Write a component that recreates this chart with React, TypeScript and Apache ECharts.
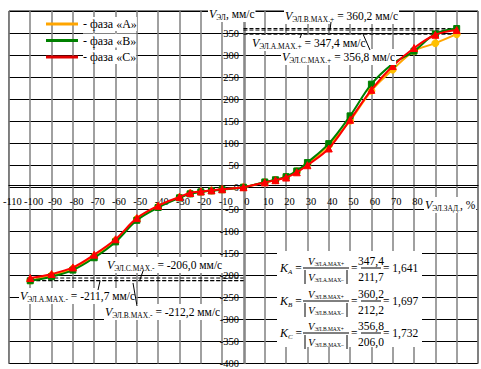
import React, { useEffect, useRef } from 'react';
import * as echarts from 'echarts';

const xValues = [-100, -90, -80, -70, -60, -50, -40, -30, -25, -20, -15, -10, 0, 10, 15, 20, 25, 30, 40, 50, 60, 70, 80, 90, 100];
const phaseA = [-211.7, -200, -185, -157, -121, -72, -44, -23, -14, -10, -7.5, -5, 0, 11, 16, 23, 36, 52, 95, 151, 219, 267, 309, 327, 347.4];
const phaseB = [-212.2, -203, -188, -160, -124, -75, -46, -24, -15, -10.5, -8, -5.5, 0, 12, 17, 24, 37, 56, 99, 162, 234, 280, 309, 348, 360.2];
const phaseC = [-206.0, -197, -182, -153, -118, -70, -42, -22, -13, -9.5, -7, -4.5, 0, 11, 16, 22, 34, 50, 88, 153, 221, 275, 316, 346, 356.8];
const phaseNames = ['фаза «А»', 'фаза «В»', 'фаза «С»'];
const phaseLetters = ['А', 'В', 'С'];
const maxPos = [347.4, 360.2, 356.8];
const maxNeg = [-211.7, -212.2, -206.0];
const fracSubs = ['А', 'В', 'В'];

const FF = "'Liberation Serif','Times New Roman',serif";
const fmt = (v: number) => v.toFixed(1).replace('.', ',');

const rich: any = {
  v: { fontFamily: FF, fontStyle: 'italic', fontSize: 12, color: '#000', lineHeight: 14, verticalAlign: 'middle' },
  s: { fontFamily: FF, fontSize: 7.5, color: '#000', lineHeight: 14, verticalAlign: 'bottom' },
  t: { fontFamily: FF, fontSize: 11.5, color: '#000', lineHeight: 14, verticalAlign: 'middle' },
  n: { fontFamily: FF, fontSize: 11.5, color: '#000', lineHeight: 13, verticalAlign: 'middle' },
  fv: { fontFamily: FF, fontStyle: 'italic', fontSize: 10.5, color: '#000', lineHeight: 12, verticalAlign: 'middle' },
  fs: { fontFamily: FF, fontSize: 5.5, color: '#000', lineHeight: 12, verticalAlign: 'bottom' },
  ks: { fontFamily: FF, fontStyle: 'italic', fontSize: 7, color: '#000', lineHeight: 14, verticalAlign: 'bottom' },
};

function label(x: number, y: number, text: string, align = 'left') {
  return {
    type: 'text', x, y, z: 60,
    style: { text, rich, backgroundColor: '#fff', padding: [1, 1, 1, 1], align, verticalAlign: 'middle', textAlign: align, textVerticalAlign: 'middle' },
  };
}
function txt(x: number, y: number, text: string, align = 'center') {
  return {
    type: 'text', x, y, z: 62,
    style: { text, rich, align, verticalAlign: 'middle', textAlign: align, textVerticalAlign: 'middle' },
  };
}
function ln(x1: number, y1: number, x2: number, y2: number, w = 1) {
  return { type: 'line', z: 61, shape: { x1, y1, x2, y2 }, style: { stroke: '#000', lineWidth: w } };
}

export default function App() {
  const ref = useRef<HTMLDivElement>(null);
  useEffect(() => {
    if (!ref.current) return;
    const chart = echarts.init(ref.current, undefined, { renderer: 'svg' });
    const mk = (name: string, data: number[], lineColor: string, symColor: string, symbol: string, size: number, z: number) => ({
      type: 'line', name, z,
      data: xValues.map((x, i) => [x, data[i]]),
      smooth: 0.35, symbol, symbolSize: size,
      lineStyle: { color: lineColor, width: 2 },
      itemStyle: { color: symColor, borderColor: symColor },
    });
    const dashed: any[] = [];
    maxPos.forEach((v) => dashed.push({ type: 'line', silent: true, z: 1, symbol: 'none', data: [[0, v], [100, v]], lineStyle: { color: '#000', width: 1, type: [4, 2] } }));
    maxNeg.forEach((v) => dashed.push({ type: 'line', silent: true, z: 1, symbol: 'none', data: [[-100, v], [0, v]], lineStyle: { color: '#000', width: 1, type: [4, 2] } }));

    const elements: any[] = [];
    elements.push(label(208, 14, '{v|V}{s|ЭЛ}{t|, мм/с}'));
    elements.push(label(424, 205, '{v|V}{s|ЭЛ.ЗАД.}{t|, %}'));
    elements.push(label(284, 16, `{v|V}{s|ЭЛ.${phaseLetters[1]}.MAX.+}{t| = ${fmt(maxPos[1])} мм/с}`));
    elements.push(label(251, 43, `{v|V}{s|ЭЛ.${phaseLetters[0]}.MAX.+}{t| = ${fmt(maxPos[0])} мм/с}`));
    elements.push(label(281, 57, `{v|V}{s|ЭЛ.${phaseLetters[2]}.MAX.+}{t| = ${fmt(maxPos[2])} мм/с}`));
    elements.push(label(106, 265, `{v|V}{s|ЭЛ.${phaseLetters[2]}.MAX.-}{t| = ${fmt(maxNeg[2])} мм/с}`));
    elements.push(label(19, 296, `{v|V}{s|ЭЛ.${phaseLetters[0]}.MAX.-}{t| = ${fmt(maxNeg[0])} мм/с}`));
    elements.push(label(104, 312, `{v|V}{s|ЭЛ.${phaseLetters[1]}.MAX.-}{t| = ${fmt(maxNeg[1])} мм/с}`));
    elements.push(ln(331, 22, 330, 30));
    elements.push(ln(301.5, 34, 300, 38));
    elements.push(ln(363, 34, 370, 50));
    elements.push(ln(143, 271, 139.5, 281));
    elements.push(ln(100, 281, 98, 290));
    elements.push(ln(133, 283, 137, 306));
    elements.push({ type: 'rect', z: 55, shape: { x: 277, y: 251, width: 145, height: 96 }, style: { fill: '#fff' } });
    const rowY = [268, 301, 333];
    const kLetters = ['A', 'B', 'C'];
    rowY.forEach((y0, i) => {
      const k = (maxPos[i] / Math.abs(maxNeg[i])).toFixed(3).replace('.', ',');
      elements.push(txt(280, y0, `{v|K}{ks|${kLetters[i]}}{n| =}`, 'left'));
      elements.push(txt(326, y0 - 7, `{fv|V}{fs|ЭЛ.${fracSubs[i]}.MAX+}`));
      elements.push(ln(303, y0, 349, y0));
      elements.push(txt(326, y0 + 9, `{fv|V}{fs|ЭЛ.${fracSubs[i]}.MAX–}`));
      elements.push(ln(305, y0 + 2, 305, y0 + 16));
      elements.push(ln(347, y0 + 2, 347, y0 + 16));
      elements.push(txt(351, y0, '{n|=}', 'left'));
      elements.push(txt(371, y0 - 7, `{n|${fmt(maxPos[i])}}`));
      elements.push(ln(361, y0, 381, y0));
      elements.push(txt(371, y0 + 9, `{n|${fmt(Math.abs(maxNeg[i]))}}`));
      elements.push(txt(383, y0, `{n|= ${k}}`, 'left'));
    });

    chart.setOption({
      animation: false,
      backgroundColor: '#fff',
      grid: { left: 8, top: 11, width: 472, height: 356, show: true, borderColor: '#000', borderWidth: 1, backgroundColor: 'transparent' },
      legend: {
        data: [
          { name: phaseNames[0], itemStyle: { color: '#FFA500' } },
          { name: phaseNames[1], itemStyle: { color: '#008000' } },
          { name: phaseNames[2], itemStyle: { color: '#E00000' } },
        ],
        orient: 'vertical', left: 46, top: 17, icon: 'rect', itemWidth: 32, itemHeight: 3, itemGap: 2.5, padding: 0,
        formatter: (n: string) => '- ' + n,
        textStyle: { fontFamily: FF, fontSize: 12, color: '#000', backgroundColor: '#fff', padding: 0, lineHeight: 14 },
      },
      xAxis: {
        type: 'value', min: -110, max: 110, interval: 10, position: 'bottom', offset: -178,
        axisLine: { onZero: false, lineStyle: { color: '#000', width: 1.2 } },
        axisTick: { show: false },
        axisLabel: { fontFamily: FF, fontSize: 10.5, color: '#000', margin: 10, padding: [0, 0, 0, 7], showMinLabel: true, formatter: (v: number) => (v >= 90 ? '' : String(v)) },
        splitLine: { show: true, lineStyle: { color: '#808080', width: 1.5 } },
      },
      yAxis: {
        type: 'value', min: -400, max: 400, interval: 50, position: 'left', offset: -236,
        axisLine: { onZero: false, lineStyle: { color: '#808080', width: 1.5 } },
        axisTick: { show: false },
        axisLabel: { fontFamily: FF, fontSize: 10.5, color: '#000', margin: 6, showMinLabel: true, formatter: (v: number) => (v === 400 ? '' : String(v)) },
        splitLine: { show: true, lineStyle: { color: '#000', width: 1 } },
      },
      series: [
        ...dashed,
        mk(phaseNames[0], phaseA, '#FFA500', '#FFC000', 'circle', 7, 3),
        mk(phaseNames[1], phaseB, '#008000', '#008000', 'rect', 6, 4),
        mk(phaseNames[2], phaseC, '#FF0000', '#FF0000', 'triangle', 7, 5),
      ],
      graphic: { elements },
    });
    return () => chart.dispose();
  }, []);
  return <div ref={ref} style={{ position: 'absolute', left: 0, top: 0, width: 481, height: 369, background: '#fff' }} />;
}
